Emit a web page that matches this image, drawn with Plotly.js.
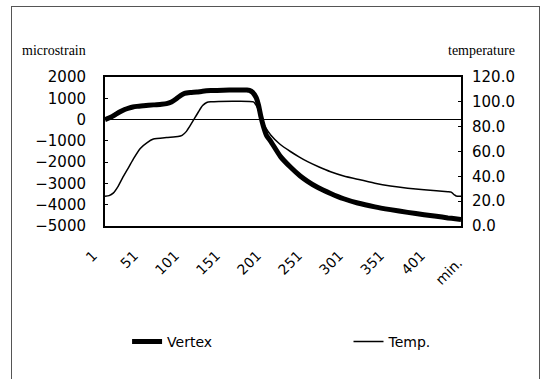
<!DOCTYPE html>
<html><head><meta charset="utf-8">
<script src="https://cdn.plot.ly/plotly-3.0.1.min.js"></script>
<style>
html,body{margin:0;padding:0;background:#fff;}
#chart{width:541px;height:379px;}
#frame{position:absolute;left:11px;top:6px;width:527px;height:380px;border:1.5px solid #555;border-bottom:none;pointer-events:none;}
</style></head><body>
<div id="chart"></div><div id="frame"></div>
<script>
// Vertex strain (microstrain)
const minutesVertex = [1,5,10,15,20,25,30,35,40,48,60,70,76,82,88,93,98,105,113,120,130,145,160,174,177,181,185,188,191,194,198,203,215,227,239,248,260,276,292,309,330,349,370,390,405,419,428,435];
const vertex = [0,60,150,270,380,470,540,590,620,650,690,720,750,830,980,1130,1230,1270,1290,1330,1360,1380,1390,1390,1370,1280,1050,700,150,-300,-750,-1020,-1740,-2230,-2650,-2900,-3180,-3470,-3720,-3920,-4100,-4230,-4360,-4470,-4540,-4620,-4660,-4690];
// Temperature
const minutesTemp = [1,6,11,17,23,30,36,44,52,60,76,90,95,100,105,110,115,120,125,130,182,185,188,192,197,203,214,227,238,248,262,276,292,309,330,349,370,390,405,419,423,427,429,435];
const temperature = [24,24.5,26.5,32,39.5,47.5,54.5,62.5,67,70,71.2,72,73,76,81,86.5,92,97,99.5,100,100,97.5,93.5,85.5,79,73.3,66,60,55.5,51.8,47.5,43.7,40.3,37.6,34.5,32.3,30.5,29.2,28.3,27.6,27.3,25,24.2,24];
const tickMinutes = [1,51,101,151,201,251,301,351,401];
const tickLabels = ['1','51','101','151','201','251','301','351','401'];
const endLabel = 'min.';
const leftTicks = [2000,1000,0,-1000,-2000,-3000,-4000,-5000];
const rightTicks = [120,100,80,60,40,20,0];
const rightTickLabels = ['120.0','100.0','80.0','60.0','40.0','20.0','0.0'];

const F = 'DejaVu Sans';
const data = [
  {x: minutesVertex, y: vertex, name: 'Vertex', type: 'scatter', mode: 'lines', legend: 'legend',
   line: {color: '#000', width: 5, shape: 'spline', smoothing: 0.5}},
  {x: minutesTemp, y: temperature, name: 'Temp.', type: 'scatter', mode: 'lines', yaxis: 'y2', legend: 'legend2',
   line: {color: '#000', width: 1.5, shape: 'spline', smoothing: 0.5}}
];
const legendCommon = {orientation: 'h', xanchor: 'left', y: -0.778, yanchor: 'middle',
  font: {family: F, size: 14, color: '#000'}, bgcolor: 'rgba(0,0,0,0)'};
const layout = {
  width: 541, height: 379,
  margin: {l: 105, r: 80, t: 77, b: 153, pad: 0},
  paper_bgcolor: '#fff', plot_bgcolor: '#fff',
  font: {family: F, color: '#000'},
  showlegend: true,
  legend: Object.assign({x: 0.062}, legendCommon),
  legend2: Object.assign({x: 0.684}, legendCommon),
  xaxis: {range: [1, 435], tickvals: tickMinutes, ticktext: tickLabels, tickangle: -45,
          ticks: '', showgrid: false, zeroline: false, showline: true, mirror: true,
          linecolor: '#000', linewidth: 2, ticklabelshift: -12, ticklabelstandoff: 14,
          tickfont: {family: F, size: 14, color: '#000'}},
  yaxis: {range: [-5000, 2000], tickvals: leftTicks, ticks: 'inside', ticklen: 3, tickcolor: '#000',
          showgrid: false, zeroline: true, zerolinecolor: '#000', zerolinewidth: 1,
          showline: true, mirror: true, linecolor: '#000', linewidth: 2, ticklabelstandoff: 14,
          tickfont: {family: F, size: 15, color: '#000'}},
  yaxis2: {range: [0, 120], overlaying: 'y', side: 'right', tickvals: rightTicks, ticktext: rightTickLabels,
           ticks: 'inside', ticklen: 3, tickcolor: '#000', showgrid: false, zeroline: false,
           showline: false, ticklabelstandoff: 10,
           tickfont: {family: F, size: 15, color: '#000'}},
  annotations: [
    {text: 'microstrain', xref: 'paper', yref: 'paper', x: -0.2388, y: 1.181, xanchor: 'left', yanchor: 'middle',
     showarrow: false, font: {family: 'Liberation Serif', size: 14, color: '#000'}},
    {text: 'temperature', xref: 'paper', yref: 'paper', x: 1.1573, y: 1.181, xanchor: 'right', yanchor: 'middle',
     showarrow: false, font: {family: 'Liberation Serif', size: 14, color: '#000'}},
    {text: endLabel, xref: 'paper', yref: 'paper', x: 0.966, y: -0.30, xanchor: 'center', yanchor: 'middle',
     textangle: -45, showarrow: false, font: {family: F, size: 14, color: '#000'}}
  ]
};
Plotly.newPlot('chart', data, layout, {staticPlot: true, displayModeBar: false});
</script>
</body></html>
